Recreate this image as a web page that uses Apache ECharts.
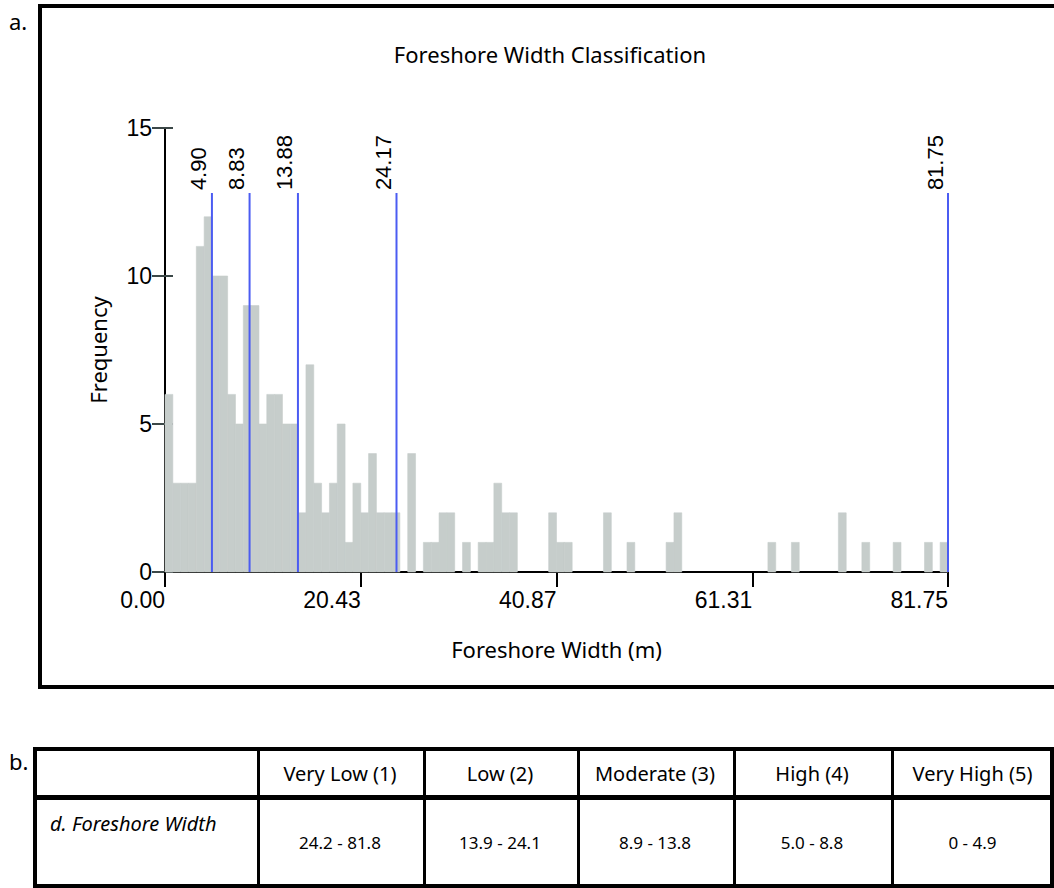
<!DOCTYPE html>
<html>
<head>
<meta charset="utf-8">
<script src="https://cdn.jsdelivr.net/npm/echarts@6/dist/echarts.min.js"></script>
<style>
html,body{margin:0;padding:0;width:1054px;height:888px;overflow:hidden;background:#fff;}
#wrap{position:relative;width:1054px;height:888px;overflow:hidden;}
#box{position:absolute;left:38px;top:4px;width:1100px;height:677px;border:4px solid #000;}
#chart{position:absolute;left:0;top:0;width:1054px;height:700px;}
.lab{position:absolute;font-family:'Noto Sans',sans-serif;font-size:22px;color:#000;line-height:1;}
.ln{position:absolute;background:#000;}
.cell{position:absolute;display:flex;align-items:center;justify-content:center;font-family:'Noto Sans',sans-serif;color:#000;white-space:nowrap;}
</style>
</head>
<body>
<div id="wrap">
  <div id="box"></div>
  <div id="chart"></div>
  <div class="lab" style="left:9px;top:10px;">a.</div>
  <div class="lab" style="left:9px;top:750px;">b.</div>
  <div id="tbl"></div>
</div>
<script>
// ---------------- data ----------------
const chartTitle = 'Foreshore Width Classification';
const xAxisName = 'Foreshore Width (m)';
const yAxisName = 'Frequency';
const xMax = 81.75;
const xTickLabels = ['0.00', '20.43', '40.87', '61.31', '81.75'];
const yTicks = [0, 5, 10, 15];
// 100 equal-width bins from 0 to 81.75
const binCounts = [
  6, 3, 3, 3, 11, 12, 10, 10, 6, 5,
  9, 9, 5, 6, 6, 5, 5, 2, 7, 3,
  2, 3, 5, 1, 3, 2, 4, 2, 2, 2,
  0, 4, 0, 1, 1, 2, 2, 0, 1, 0,
  1, 1, 3, 2, 2, 0, 0, 0, 0, 2,
  1, 1, 0, 0, 0, 0, 2, 0, 0, 1,
  0, 0, 0, 0, 1, 2, 0, 0, 0, 0,
  0, 0, 0, 0, 0, 0, 0, 1, 0, 0,
  1, 0, 0, 0, 0, 0, 2, 0, 0, 1,
  0, 0, 0, 1, 0, 0, 0, 1, 0, 1
];
const breakValues = [4.90, 8.83, 13.88, 24.17, 81.75];
const breakLabels = ['4.90', '8.83', '13.88', '24.17', '81.75'];
const breakLineTop = 12.8;

const tableHeaders = ['', 'Very Low (1)', 'Low (2)', 'Moderate (3)', 'High (4)', 'Very High (5)'];
const tableRowLabel = 'd. Foreshore Width';
const tableValues = ['24.2 - 81.8', '13.9 - 24.1', '8.9 - 13.8', '5.0 - 8.8', '0 - 4.9'];

// ---------------- chart ----------------
const binW = xMax / binCounts.length;
const histData = binCounts.map((c, i) => [i * binW, (i + 1) * binW, c]);
const xInterval = xMax / (xTickLabels.length - 1);
const tickFont = 'Liberation Sans';
const barColor = '#c6cdcb';

const chart = echarts.init(document.getElementById('chart'), null, {renderer: 'svg'});
chart.setOption({
  animation: false,
  backgroundColor: 'transparent',
  grid: {left: 165, right: 106, top: 128, bottom: 128, containLabel: false, outerBoundsMode: 'none'},
  graphic: [{
    type: 'text', x: 550, y: 54,
    style: {text: chartTitle, font: '22px "Noto Sans"', fill: '#000', align: 'center', verticalAlign: 'middle'}
  }],
  xAxis: {
    type: 'value', min: 0, max: xMax, interval: xInterval,
    axisLine: {show: true, onZero: false, lineStyle: {color: '#000', width: 2}},
    axisTick: {show: true, length: 15, lineStyle: {color: '#000', width: 2}},
    axisLabel: {
      show: true, margin: 16, align: 'right', fontSize: 23, fontFamily: tickFont, color: '#000',
      formatter: v => xTickLabels[Math.round(v / xInterval)]
    },
    splitLine: {show: false},
    name: xAxisName, nameLocation: 'middle', nameGap: 66,
    nameTextStyle: {fontFamily: 'Noto Sans', fontSize: 22, color: '#000'}
  },
  yAxis: [{
    type: 'value', min: yTicks[0], max: yTicks[yTicks.length - 1], interval: yTicks[1] - yTicks[0],
    axisLine: {show: true, lineStyle: {color: '#000', width: 2}},
    axisTick: {show: true, length: 13, lineStyle: {color: '#3b4747', width: 2}},
    axisLabel: {show: true, margin: 13, fontSize: 23, fontFamily: tickFont, color: '#000'},
    splitLine: {show: false},
    name: yAxisName, nameLocation: 'middle', nameGap: 56,
    nameTextStyle: {fontFamily: 'Noto Sans', fontSize: 22, color: '#000'}
  }, {
    type: 'value', min: yTicks[0], max: yTicks[yTicks.length - 1], interval: yTicks[1] - yTicks[0],
    position: 'left',
    axisLine: {show: false},
    axisTick: {show: true, inside: true, length: 8, lineStyle: {color: '#3b4747', width: 2}},
    axisLabel: {show: false},
    splitLine: {show: false}
  }],
  series: [{
    type: 'custom',
    name: 'hist',
    encode: {x: [0, 1], y: 2},
    data: histData,
    z: 1,
    renderItem: (params, api) => {
      if (!api.value(2)) return null;
      const p0 = api.coord([api.value(0), api.value(2)]);
      const p1 = api.coord([api.value(1), 0]);
      return {
        type: 'rect',
        shape: {x: p0[0], y: p0[1], width: p1[0] - p0[0], height: p1[1] - p0[1]},
        style: {fill: barColor, stroke: barColor, lineWidth: 0.6}
      };
    }
  }, {
    type: 'custom',
    name: 'breaks',
    encode: {x: 0},
    data: breakValues.map(v => [v]),
    z: 3,
    renderItem: (params, api) => {
      const v = api.value(0);
      const b = api.coord([v, 0]);
      const t = api.coord([v, breakLineTop]);
      return {
        type: 'group',
        children: [{
          type: 'line',
          shape: {x1: b[0], y1: b[1], x2: t[0], y2: t[1]},
          style: {stroke: '#4b5cf2', lineWidth: 2}
        }, {
          type: 'text',
          x: t[0] - 13, y: t[1] - 3,
          rotation: Math.PI / 2,
          style: {text: breakLabels[params.dataIndex], font: '22px "Liberation Sans"', fill: '#000', align: 'left', verticalAlign: 'middle'}
        }]
      };
    }
  }]
});

// ---------------- table ----------------
(function () {
  const tbl = document.getElementById('tbl');
  const colX = [33, 257, 423, 577, 733, 891, 1054];
  const add = (cls, css, html) => {
    const d = document.createElement('div');
    d.className = cls;
    Object.assign(d.style, css);
    if (html !== undefined) d.textContent = html;
    tbl.appendChild(d);
    return d;
  };
  // horizontal lines
  add('ln', {left: '33px', top: '747px', width: '1021px', height: '4px'});
  add('ln', {left: '33px', top: '795px', width: '1021px', height: '5px'});
  add('ln', {left: '33px', top: '884px', width: '1021px', height: '4px'});
  // vertical lines
  add('ln', {left: '33px', top: '747px', width: '4px', height: '141px'});
  add('ln', {left: '1050px', top: '747px', width: '4px', height: '141px'});
  for (let i = 1; i < colX.length - 1; i++) {
    add('ln', {left: (colX[i]) + 'px', top: '747px', width: '3px', height: '141px'});
  }
  // header texts
  for (let i = 1; i < tableHeaders.length; i++) {
    add('cell', {left: colX[i] + 'px', top: '751px', width: (colX[i + 1] - colX[i]) + 'px', height: '44px', fontSize: '20px'}, tableHeaders[i]);
  }
  // body
  add('cell', {left: '50px', top: '809px', height: '28px', justifyContent: 'flex-start', fontSize: '20px', fontStyle: 'italic'}, tableRowLabel);
  for (let i = 0; i < tableValues.length; i++) {
    add('cell', {left: colX[i + 1] + 'px', top: '800px', width: (colX[i + 2] - colX[i + 1]) + 'px', height: '84px', fontSize: '17px'}, tableValues[i]);
  }
})();
</script>
</body>
</html>
